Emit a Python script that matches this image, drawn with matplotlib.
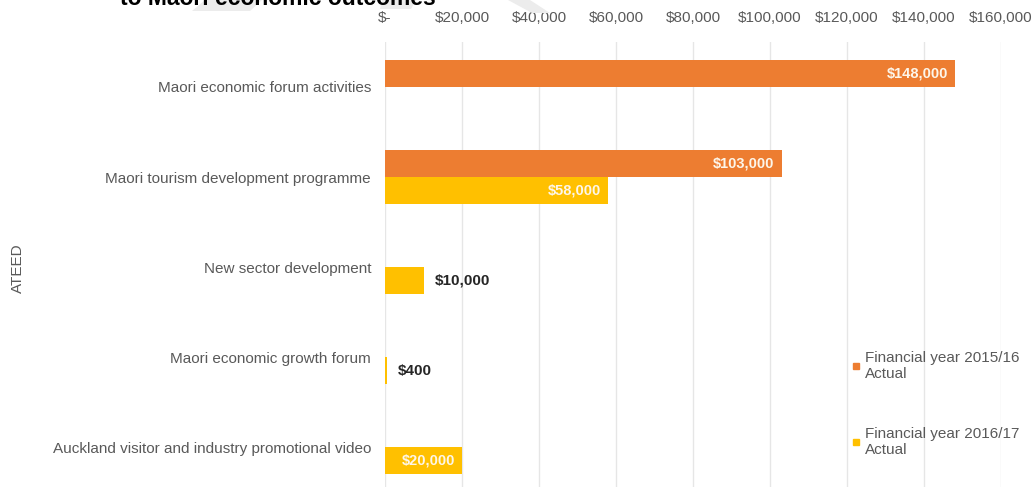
import matplotlib.pyplot as plt
from matplotlib.lines import Line2D
from matplotlib.patches import Polygon

plt.rcParams['font.family'] = ['Liberation Sans', 'DejaVu Sans']

categories = ['Maori economic forum activities',
              'Maori tourism development programme',
              'New sector development',
              'Maori economic growth forum',
              'Auckland visitor and industry promotional video']
fy2016 = [148000, 103000, 0, 0, 0]
fy2017 = [0, 58000, 10000, 400, 20000]
series_names = ['Financial year 2015/16\nActual', 'Financial year 2016/17\nActual']
xticks = [0, 20000, 40000, 60000, 80000, 100000, 120000, 140000, 160000]

ORANGE = '#ED7D31'
YELLOW = '#FFC000'
GREY = '#595959'


def money(v):
    return '$-' if v == 0 else '${:,.0f}'.format(v)


fig = plt.figure(figsize=(10.36, 4.87), dpi=100)
W, H = 1036, 487

# faint watermark strokes behind the header
for pts in [[(205, 0), (262, 0), (250, 11), (192, 11)],
            [(382, 0), (416, 0), (411, 9), (380, 9)],
            [(508, 0), (530, 0), (550, 13), (532, 13)]]:
    fig.patches.append(Polygon([(x / W, 1 - y / H) for x, y in pts], closed=True,
                               transform=fig.transFigure, fc='#ececec', ec='none', zorder=0))

fig.text(120 / W, 1 - 5 / H, 'to Maori economic outcomes', fontsize=16.5,
         fontweight='bold', color='black', va='baseline', ha='left')

ax = fig.add_axes([385 / W, 1 - 492 / H, 616 / W, 450 / H])

h = 0.30
ypos = list(range(len(categories)))
ax.barh([y - h / 2 for y in ypos], fy2016, height=h, color=ORANGE, zorder=3)
ax.barh([y + h / 2 for y in ypos], fy2017, height=h, color=YELLOW, zorder=3)


def label_bars(values, offset):
    for y, v in zip(ypos, values):
        if v == 0:
            continue
        if v > 15000:
            ax.annotate(money(v), (v, y + offset), xytext=(-7, 0), textcoords='offset pixels',
                        ha='right', va='center', fontsize=10.5, fontweight='bold',
                        color='#fdf6ea', zorder=4)
        else:
            ax.annotate(money(v), (v, y + offset), xytext=(11, 0), textcoords='offset pixels',
                        ha='left', va='center', fontsize=11, fontweight='bold',
                        color='#262626', zorder=4)


label_bars(fy2016, -h / 2)
label_bars(fy2017, h / 2)

ax.set_xlim(0, 160000)
ax.set_ylim(len(categories) - 0.5, -0.5)
ax.set_xticks(xticks)
ax.set_xticklabels([money(v) for v in xticks])
ax.xaxis.tick_top()
ax.set_yticks(ypos)
ax.set_yticklabels(categories)
ax.tick_params(axis='x', length=0, pad=12, labelsize=11, labelcolor=GREY)
ax.tick_params(axis='y', length=0, pad=10, labelsize=11, labelcolor=GREY)
for s in ax.spines.values():
    s.set_visible(False)
ax.grid(axis='x', color='#e6e6e6', lw=1, zorder=0)
ax.set_axisbelow(True)

fig.text(18 / W, 1 - 268 / H, 'ATEED', rotation=90, fontsize=11, color=GREY,
         ha='center', va='center')

handles = [Line2D([], [], marker='s', ls='none', color=c, markersize=4.5)
           for c in (ORANGE, YELLOW)]
fig.legend(handles, series_names, loc='upper left', bbox_to_anchor=(851 / W, 1 - 351 / H),
           frameon=False, fontsize=11, labelcolor=GREY, handlelength=0.6,
           handletextpad=0.3, labelspacing=3.0, borderaxespad=0, borderpad=0)

fig.savefig('out.png', dpi=100)
